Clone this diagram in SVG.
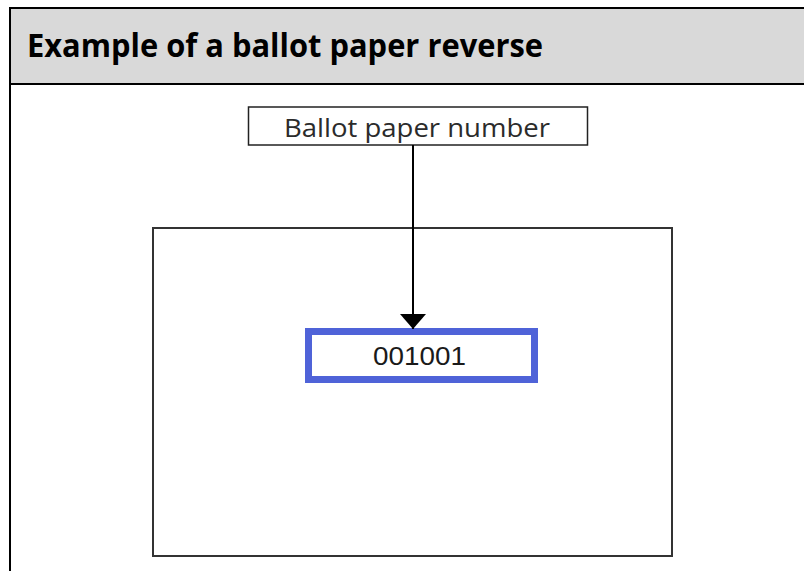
<svg xmlns="http://www.w3.org/2000/svg" width="804" height="571" viewBox="0 0 804 571">
  <defs>
    <style>
      .title { font-family: "Open Sans", "Noto Sans", sans-serif; font-weight: bold; font-size: 32px; fill: #000; }
      .lbl { font-family: "Open Sans", "Noto Sans", sans-serif; font-size: 26px; fill: #2b2b2b; }
      .num { font-family: "Liberation Sans", Arial, sans-serif; font-size: 25px; fill: #1a1a1a; }
    </style>
    <marker id="arrow" viewBox="0 0 15 26" refX="15" refY="13" markerWidth="15" markerHeight="26" markerUnits="userSpaceOnUse" orient="auto">
      <path d="M0,0 L15,13 L0,26 Z" fill="#000"/>
    </marker>
  </defs>
  <rect x="0" y="0" width="804" height="571" fill="#fff"/>
  <g id="header">
    <rect x="10" y="8" width="800" height="76" fill="#d9d9d9"/>
    <path d="M10,8 H804 M10,84 H804 M10,7 V571" stroke="#000" stroke-width="2" fill="none"/>
    <text class="title" x="27" y="57" textLength="516" lengthAdjust="spacingAndGlyphs">Example of a ballot paper reverse</text>
  </g>
  <g id="paper">
    <rect x="153" y="228" width="519" height="328" fill="#fff" stroke="#333" stroke-width="2"/>
  </g>
  <g id="label">
    <rect x="248.5" y="107" width="339" height="38" fill="#fff" stroke="#222" stroke-width="1.5"/>
    <text class="lbl" x="284" y="137" textLength="266" lengthAdjust="spacingAndGlyphs">Ballot paper number</text>
  </g>
  <g id="number">
    <rect x="308.5" y="331.5" width="226" height="48" fill="#fff" stroke="#4f63d8" stroke-width="7"/>
    <text class="num" x="373" y="365" textLength="93" lengthAdjust="spacingAndGlyphs">001001</text>
  </g>
  <g id="connectors">
    <path d="M413,145 V329" stroke="#000" stroke-width="2" fill="none" marker-end="url(#arrow)"/>
  </g>
</svg>
